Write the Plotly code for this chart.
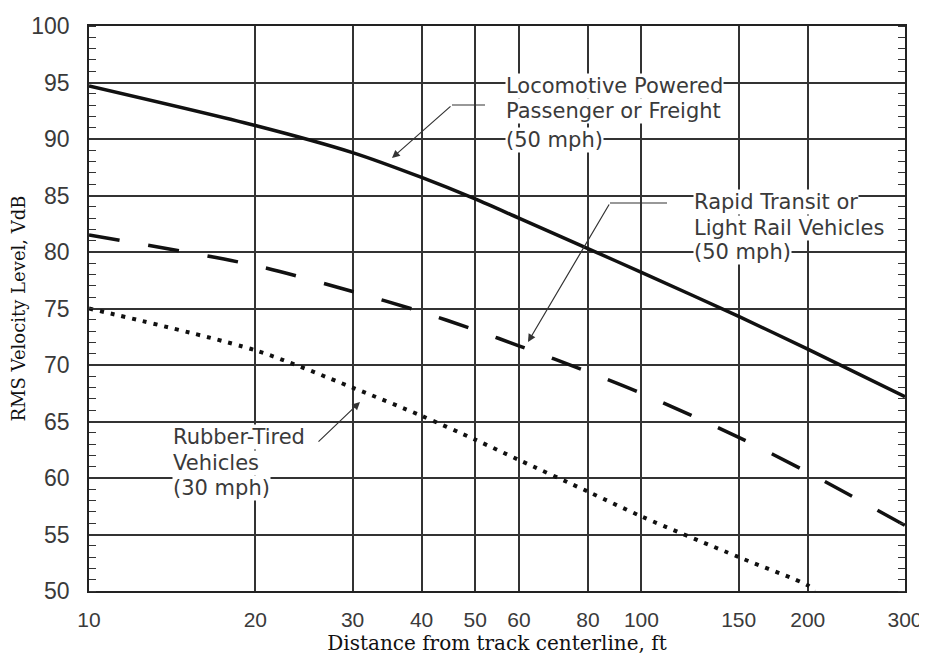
import plotly.graph_objects as go

# Data
distance_ft = [10, 20, 30, 40, 50, 60, 80, 100, 150, 200, 300]
locomotive_vdb = [94.7, 91.2, 88.8, 86.6, 84.7, 83.0, 80.3, 78.2, 74.3, 71.4, 67.2]
rapid_transit_vdb = [81.5, 78.8, 76.5, 74.7, 73.1, 71.7, 69.4, 67.5, 63.6, 60.5, 55.8]
rubber_distance_ft = [10, 20, 30, 40, 50, 60, 80, 100, 150, 200, 206]
rubber_tired_vdb = [75.0, 71.3, 68.0, 65.5, 63.4, 61.6, 58.8, 56.6, 53.0, 50.5, 50.0]

x_tick_vals = [10, 20, 30, 40, 50, 60, 80, 100, 150, 200, 300]
x_tick_text = ["10", "20", "30", "40", "50", "60", "80", "100", "150", "200", "300"]
y_tick_vals = [50, 55, 60, 65, 70, 75, 80, 85, 90, 95, 100]

# The page body has an 8px margin, so the figure is shifted by 8px
OFF = 8
W, H = 927 - OFF, 656 - OFF
L, R, T, B = 89 - OFF, 22, 26 - OFF, 65
PW, PH = W - L - R, H - T - B


def px2paper(px, py):
    # px, py are page pixels in the reference picture
    return (px - OFF - L) / PW, (H - B - (py - OFF)) / PH


fig = go.Figure()
fig.add_trace(go.Scatter(x=distance_ft, y=locomotive_vdb, mode="lines",
                         line=dict(color="#111", width=3.5, shape="spline", smoothing=0.8),
                         showlegend=False))
fig.add_trace(go.Scatter(x=distance_ft, y=rapid_transit_vdb, mode="lines",
                         line=dict(color="#111", width=3.5, shape="spline", smoothing=0.8,
                                   dash="31px,29px"),
                         showlegend=False))
fig.add_trace(go.Scatter(x=rubber_distance_ft, y=rubber_tired_vdb, mode="lines",
                         line=dict(color="#111", width=4, shape="spline", smoothing=0.8,
                                   dash="4px,7px"),
                         showlegend=False))

label_font = dict(family="DejaVu Sans", size=21, color="#3a3a3a")
labels = [
    ("Locomotive Powered", 505, 86),
    ("Passenger or Freight", 505, 111),
    ("(50 mph)", 505, 140),
    ("Rapid Transit or", 693, 202),
    ("Light Rail Vehicles", 693, 228),
    ("(50 mph)", 693, 252),
    ("Rubber-Tired", 172, 437),
    ("Vehicles", 172, 463),
    ("(30 mph)", 172, 488),
]
for txt, px, py in labels:
    xp, yp = px2paper(px, py)
    fig.add_annotation(text=txt, xref="paper", yref="paper", x=xp, y=yp,
                       xanchor="left", yanchor="middle", showarrow=False,
                       font=label_font, bgcolor="white", borderpad=0)

# leader lines (tip, elbow, end of horizontal)
leaders = [((392, 158), (452, 105), (485, 105)),
           ((528, 342), (610, 203), (667, 203)),
           ((360, 402), (317, 443), None)]
for tip, elbow, end in leaders:
    xp, yp = px2paper(*tip)
    fig.add_annotation(xref="paper", yref="paper", x=xp, y=yp, text="",
                       showarrow=True, arrowhead=2, arrowsize=1.3, arrowwidth=1.2,
                       arrowcolor="#333", ax=elbow[0] - tip[0], ay=elbow[1] - tip[1],
                       axref="pixel", ayref="pixel")
    if end is not None:
        x0, y0 = px2paper(*elbow)
        x1, y1 = px2paper(*end)
        fig.add_shape(type="line", xref="paper", yref="paper", x0=x0, y0=y0, x1=x1, y1=y1,
                      line=dict(color="#333", width=1.2))

tick_font = dict(family="Liberation Sans, Arial", size=23, color="#3a3a3a")
x_tick_font = dict(family="Liberation Sans, Arial", size=21, color="#3a3a3a")

fig.update_xaxes(type="log", range=[1, 2.4771], tickvals=x_tick_vals, ticktext=x_tick_text,
                 showgrid=True, gridcolor="#333", gridwidth=1.5,
                 showline=True, linecolor="#222", linewidth=1.5, mirror=True,
                 ticks="", tickfont=x_tick_font, ticklabelstandoff=9, automargin=False,
                 ticklabeloverflow="allow",
                 title=dict(text="Distance from track centerline, ft",
                            font=dict(family="DejaVu Serif", size=20, color="#111"), standoff=4),
                 zeroline=False)
fig.update_yaxes(range=[50, 100], tickvals=y_tick_vals,
                 showgrid=True, gridcolor="#333", gridwidth=1.5,
                 showline=True, linecolor="#222", linewidth=1.5, mirror="ticks",
                 ticks="", tickfont=tick_font, ticklabelstandoff=13, automargin=False,
                 minor=dict(dtick=1, ticks="inside", ticklen=7, tickcolor="#333", tickwidth=1.3,
                            showgrid=False),
                 title=dict(text="RMS Velocity Level, VdB",
                            font=dict(family="DejaVu Serif", size=18, color="#111"), standoff=2),
                 zeroline=False)

fig.update_layout(width=W, height=H, margin=dict(l=L, r=R, t=T, b=B),
                  plot_bgcolor="white", paper_bgcolor="white")

fig.write_html("out.html")
